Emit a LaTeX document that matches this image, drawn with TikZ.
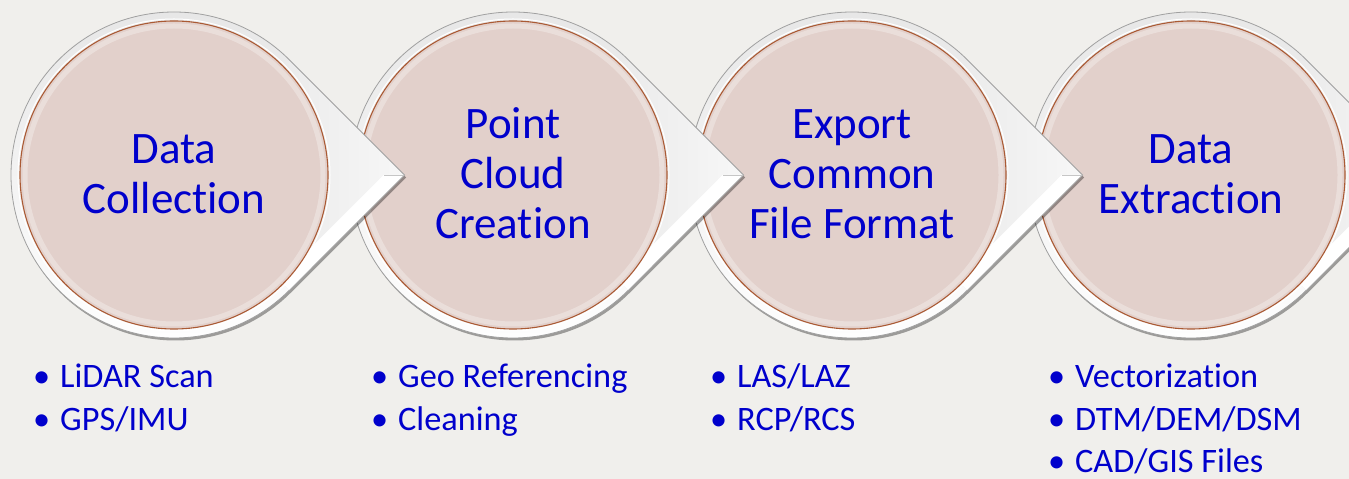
\documentclass[tikz,border=0pt]{standalone}
\usepackage{fontspec}
\setmainfont{Carlito}[Ligatures={NoCommon}]
\usetikzlibrary{shadows,calc}
\definecolor{bg}{RGB}{240,239,236}
\definecolor{pinkfill}{RGB}{226,208,203}
\definecolor{rimbrown}{RGB}{170,90,52}
\definecolor{txtblue}{RGB}{0,0,204}
\definecolor{rimgrey}{RGB}{160,160,160}
\definecolor{bevtop}{RGB}{230,230,230}
\definecolor{pointdark}{RGB}{224,224,224}
\definecolor{pointlight}{RGB}{247,247,247}
\tikzset{
  titletext/.style={text=txtblue, font=\fontsize{45}{49}\selectfont, anchor=base, inner sep=0pt},
  bullettext/.style={text=txtblue, font=\fontsize{34.3}{43}\selectfont, anchor=base west, inner sep=0pt},
  teardrop/.style={draw=rimgrey, line width=0.8pt, top color=bevtop, bottom color=white,
    drop shadow={shadow xshift=1.5pt, shadow yshift=-2.5pt, opacity=0.35, fill=black}},
  pointface/.style={left color=pointdark, right color=pointlight},
  bevelface/.style={fill=white},
  innerdisc/.style={fill=pinkfill},
  innerrim/.style={draw=rimbrown, line width=1.1pt},
  innerglow/.style={draw=white, opacity=0.3, line width=5pt},
}
\newcommand\drawstage[2]{%
  \coordinate (#1) at (#2,304);
  \path[teardrop] ($(#1)+(45:163)$) arc[start angle=45, end angle=315, radius=163]
     -- ($(#1)+(230.5,0)$) -- cycle;
  \path[pointface] ($(#1)+(45:162)$) -- ($(#1)+(229,0)$) -- ($(#1)+(-45:162)$) -- (#1) -- cycle;
  \path[bevelface] ($(#1)+(229.5,0)$) -- ($(#1)+(-45:162.5)$) -- ($(#1)+(-45:162.5)+(-10,10)$)
     -- ($(#1)+(209.5,0)$) -- cycle;
  \draw[rimgrey!60, line width=0.5pt] ($(#1)+(229.5,0)$) -- ($(#1)+(209.5,0)$);
  \path[innerdisc] (#1) circle (154);
  \draw[innerglow] (#1) circle (149);
  \draw[innerrim] (#1) circle (154);
  \draw[white, line width=1pt] (#1) circle (156);
}
\newcommand\bulletline[4]{%
  \node[bullettext] (#1) at (#2,#3) {\makebox[0pt][r]{\textbullet\hspace{10pt}}#4};
}
\begin{document}
\begin{tikzpicture}[x=1pt,y=1pt]
\useasboundingbox (0,0) rectangle (1349,479);
\fill[bg] (0,0) rectangle (1349,479);
\drawstage{s4}{1191}
\drawstage{s3}{852}
\drawstage{s2}{513}
\drawstage{s1}{174}
% titles
\node[titletext] (t1a) at (174,315) {Data};
\node[titletext] (t1b) at (174,265) {Collection};
\node[titletext] (t2a) at (513,340) {Point};
\node[titletext] (t2b) at (513,290) {Cloud};
\node[titletext] (t2c) at (513,240.5) {Creation};
\node[titletext] (t3a) at (852,340) {Export};
\node[titletext] (t3b) at (852,290) {Common};
\node[titletext] (t3c) at (852,240.5) {File Format};
\node[titletext] (t4a) at (1191,315) {Data};
\node[titletext] (t4b) at (1191,265) {Extraction};
% bullets
\bulletline{b1a}{60}{91}{LiDAR Scan}
\bulletline{b1b}{60}{48}{GPS/IMU}
\bulletline{b2a}{398}{91}{Geo Referencing}
\bulletline{b2b}{398}{48}{Cleaning}
\bulletline{b3a}{737}{91}{LAS/LAZ}
\bulletline{b3b}{737}{48}{RCP/RCS}
\bulletline{b4a}{1075}{91}{Vectorization}
\bulletline{b4b}{1075}{48}{DTM/DEM/DSM}
\bulletline{b4c}{1075}{6}{CAD/GIS Files}
\end{tikzpicture}
\end{document}
